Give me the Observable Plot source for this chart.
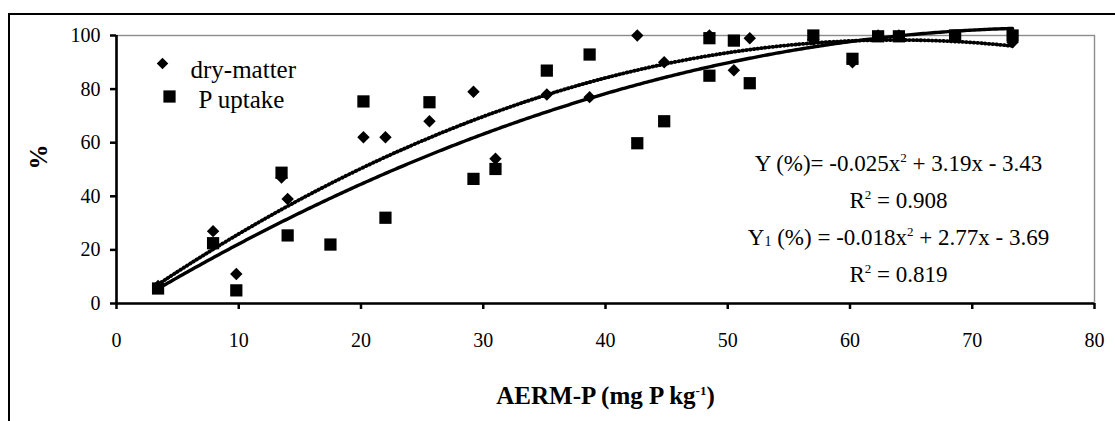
<!DOCTYPE html>
<html><head><meta charset="utf-8">
<script src="https://cdn.jsdelivr.net/npm/d3@7"></script>
<script src="https://cdn.jsdelivr.net/npm/@observablehq/plot@0.6"></script>
<style>
body{margin:0;background:#fff;}
#wrap{position:relative;width:1115px;height:421px;overflow:hidden;background:#fff;}
#frame{position:absolute;left:8px;top:13px;width:1200px;height:500px;border:2px solid #000;box-sizing:border-box;}
#chart{position:absolute;left:0;top:0;}
</style></head><body>
<div id="wrap"><div id="frame"></div><div id="chart"></div></div>
<script>
// ---- data ----
const dryX = [3.4, 7.9, 9.8, 13.5, 14.0, 20.2, 22.0, 25.6, 29.2, 31.0, 35.2, 38.7, 42.6, 44.8, 48.5, 50.5, 51.8, 57.0, 60.2, 62.3, 64.0, 68.6, 73.3];
const dryY = [6.5, 27, 11, 47, 39, 62, 62, 68, 79, 54, 78, 77, 100, 90, 100, 87, 99, 98.5, 90, 100, 100, 100, 97.5];
const upX  = [3.4, 7.9, 9.8, 13.5, 14.0, 17.5, 20.2, 22.0, 25.6, 29.2, 31.0, 35.2, 38.7, 42.6, 44.8, 48.5, 48.5, 50.5, 51.8, 57.0, 60.2, 62.3, 64.0, 68.6, 73.3];
const upY  = [5.6, 22.5, 4.9, 48.8, 25.4, 22, 75.4, 32, 75.1, 46.5, 50.2, 86.9, 92.9, 59.8, 68, 99, 85, 98.1, 82.2, 100, 91.3, 99.7, 99.7, 100, 100];
// trendline equations printed on the chart: a*x^2 + b*x + c
const dryCoef = [-0.025, 3.19, -3.43];
const upCoef  = [-0.018, 2.77, -3.69];
const xTicks = [0, 10, 20, 30, 40, 50, 60, 70, 80];
const yTicks = [0, 20, 40, 60, 80, 100];
const seriesNames = ["dry-matter", "P uptake"];
const eqLines = [
  "Y (%)= -0.025x^{2} + 3.19x - 3.43",
  "R^{2} = 0.908",
  "Y_{1} (%) = -0.018x^{2} + 2.77x - 3.69",
  "R^{2} = 0.819"
];
const xLabel = "AERM-P (mg P kg^{-1})";
const yLabel = "%";

// ---- derived tables ----
const dry = dryX.map((x, i) => ({x, y: dryY[i]}));
const up = upX.map((x, i) => ({x, y: upY[i]}));
const curve = (coef, x0, x1) => d3.range(x0, x1, 0.2).concat([x1]).map(x => ({x, y: coef[0]*x*x + coef[1]*x + coef[2]}));
const dryCurve = curve(dryCoef, d3.min(dryX), d3.max(dryX));
const upCurve = curve(upCoef, d3.min(upX), d3.max(upX));

const font = "'Liberation Serif','Times New Roman',serif";

const chart = Plot.plot({
  width: 1115, height: 421,
  marginLeft: 116, marginRight: 21, marginTop: 35, marginBottom: 118,
  style: {fontFamily: font, background: "transparent", color: "#000", overflow: "visible"},
  x: {domain: [0, 80]},
  y: {domain: [0, 100]},
  marks: [
    Plot.frame({stroke: "#8c8c8c", strokeWidth: 1.4}),
    Plot.axisY({ticks: yTicks, tickSize: 6, tickPadding: 10, strokeWidth: 2.5, fontSize: 20, label: null}),
    Plot.axisX({ticks: xTicks, tickSize: 6, tickPadding: 23, strokeWidth: 2.5, fontSize: 20, label: null}),
    Plot.ruleX([0], {y1: 0, y2: 100, strokeWidth: 2.6, stroke: "#000"}),
    Plot.ruleY([0], {x1: 0, x2: 80, strokeWidth: 2.6, stroke: "#000"}),
    Plot.line(dryCurve, {x: "x", y: "y", stroke: "#000", strokeWidth: 3.8, strokeLinecap: "round", strokeDasharray: "0.7,3.1"}),
    Plot.line(upCurve, {x: "x", y: "y", stroke: "#000", strokeWidth: 3.4}),
    Plot.dot(dry, {x: "x", y: "y", symbol: "diamond2", r: 5.6, fill: "#000", stroke: "none"}),
    Plot.dot(up, {x: "x", y: "y", symbol: "square", r: 6.9, fill: "#000", stroke: "none"}),
    // legend
    Plot.dot([seriesNames[0]], {frameAnchor: "top-left", dx: 46, dy: 28, symbol: "diamond2", r: 5.2, fill: "#000", stroke: "none"}),
    Plot.dot([seriesNames[1]], {frameAnchor: "top-left", dx: 53, dy: 61, symbol: "square", r: 6.9, fill: "#000", stroke: "none"}),
    Plot.text([seriesNames[0]], {text: d => d, frameAnchor: "top-left", lineAnchor: "middle", dx: 74, dy: 34, textAnchor: "start", fontSize: 25}),
    Plot.text([seriesNames[1]], {text: d => d, frameAnchor: "top-left", lineAnchor: "middle", dx: 82, dy: 64, textAnchor: "start", fontSize: 25}),
    // equations
    ...eqLines.map((t, i) => Plot.text([t], {text: d => d, frameAnchor: "top-left", lineAnchor: "middle", dx: 782, dy: 128 + i * 37, textAnchor: "middle", fontSize: 23})),
    // axis titles
    Plot.text([xLabel], {text: d => d, frameAnchor: "bottom", lineAnchor: "middle", dy: 92, fontSize: 25, fontWeight: "bold"}),
    Plot.text([yLabel], {text: d => d, frameAnchor: "left", lineAnchor: "middle", dx: -78, rotate: -90, fontSize: 25, fontWeight: "bold"})
  ]
});

// turn ^{..} / _{..} into raised / lowered tspans
function richify(svg) {
  d3.select(svg).selectAll("text").each(function() {
    const t = this.textContent;
    if (!/[\^_]\{/.test(t)) return;
    const fs = parseFloat(this.getAttribute("font-size")) || parseFloat(getComputedStyle(this).fontSize) || 20;
    const sel = d3.select(this);
    sel.text(null);
    const re = /([\^_])\{([^}]*)\}/g;
    let last = 0, m, cur = 0;
    const add = (s, target, size) => {
      const ts = sel.append("tspan").text(s);
      const d = target - cur;
      if (Math.abs(d) > 0.01) ts.attr("dy", d);
      if (size) ts.attr("font-size", size);
      cur = target;
    };
    while ((m = re.exec(t))) {
      if (m.index > last) add(t.slice(last, m.index), 0, null);
      if (m[1] === "^") add(m[2], -0.45 * fs, 0.65 * fs);
      else add(m[2], 0.05 * fs, 0.7 * fs);
      last = re.lastIndex;
    }
    if (last < t.length) add(t.slice(last), 0, null);
  });
}
richify(chart);
document.getElementById("chart").appendChild(chart);
</script>
</body></html>
